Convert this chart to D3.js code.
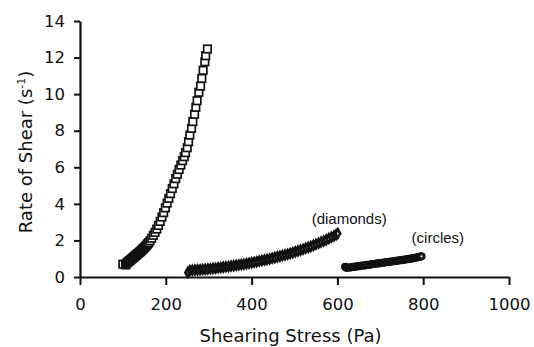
<!DOCTYPE html>
<html>
<head>
<meta charset="utf-8">
<script src="https://cdn.jsdelivr.net/npm/d3@7"></script>
<style>
  body { margin: 0; background: #fff; }
  svg { display: block; }
</style>
</head>
<body>
<figure id="chart" style="margin:0"></figure>
<script>
// squares series: shearing stress (Pa), rate of shear (1/s)
const squareStress = [100, 106, 108, 110, 112, 114, 116, 118, 120, 122, 124, 126, 128, 130, 132, 134, 136, 138, 140,
  142, 144, 146, 148, 150, 152, 154, 156, 158, 160, 163, 167, 171, 175, 179, 183, 187, 191, 195, 199, 203, 207, 211,
  215, 219, 223, 227, 231, 235, 239, 243, 246, 250, 253, 256, 260, 263, 267, 270, 273, 277, 281, 284, 287, 291, 293, 297];
const squareRate = [0.70, 0.66, 0.72, 0.78, 0.82, 0.86, 0.90, 0.94, 0.98, 1.02, 1.06, 1.10, 1.14, 1.18, 1.22, 1.26, 1.30, 1.34, 1.38,
  1.42, 1.47, 1.52, 1.56, 1.61, 1.66, 1.71, 1.76, 1.82, 1.88, 1.98, 2.12, 2.28, 2.44, 2.62, 2.82, 3.04, 3.28, 3.52, 3.78, 4.04, 4.30, 4.56,
  4.84, 5.10, 5.38, 5.62, 5.88, 6.12, 6.36, 6.58, 6.80, 7.07, 7.40, 7.76, 8.13, 8.50, 8.90, 9.28, 9.64, 10.10, 10.44, 10.86, 11.30, 11.77, 12.10, 12.47];

// diamonds series
const diamondStress = [251, 256, 262, 268, 274, 280, 286, 292, 298, 304, 310, 316, 322, 328, 334, 340, 346, 352, 358,
  364, 370, 376, 382, 388, 394, 400, 406, 412, 418, 424, 430, 436, 442, 448, 454, 460, 466, 472, 478, 484, 490, 496,
  502, 508, 514, 520, 526, 532, 538, 544, 550, 556, 562, 568, 574, 580, 586, 592, 597, 601];
const diamondRate = [0.25, 0.36, 0.37, 0.38, 0.39, 0.40, 0.41, 0.42, 0.44, 0.45, 0.47, 0.48, 0.50, 0.52, 0.54, 0.56, 0.58, 0.60, 0.62,
  0.64, 0.66, 0.68, 0.70, 0.73, 0.75, 0.78, 0.81, 0.84, 0.87, 0.90, 0.93, 0.96, 0.99, 1.02, 1.06, 1.10, 1.13, 1.17, 1.21, 1.25, 1.29, 1.33,
  1.38, 1.42, 1.47, 1.52, 1.57, 1.62, 1.67, 1.73, 1.79, 1.85, 1.91, 1.97, 2.03, 2.10, 2.17, 2.24, 2.31, 2.38];

// circles series
const circleStress = [618, 621, 625, 629, 633, 637, 641, 645, 649, 653, 657, 661, 665, 669, 673, 677, 681, 685, 689,
  693, 697, 701, 705, 709, 713, 717, 721, 725, 729, 733, 737, 741, 745, 749, 753, 757, 761, 765, 769, 773, 777,
  781, 785, 789, 793, 796];
const circleRate = [0.56, 0.50, 0.51, 0.52, 0.54, 0.55, 0.56, 0.58, 0.59, 0.60, 0.62, 0.63, 0.64, 0.66, 0.67, 0.68, 0.70, 0.71, 0.72,
  0.74, 0.75, 0.76, 0.78, 0.79, 0.80, 0.82, 0.83, 0.84, 0.86, 0.87, 0.88, 0.90, 0.91, 0.92, 0.94, 0.95, 0.97, 0.98, 1.00, 1.01, 1.03,
  1.05, 1.07, 1.09, 1.11, 1.13];

const xTicks = [0, 200, 400, 600, 800, 1000];
const yTicks = [0, 2, 4, 6, 8, 10, 12, 14];

const margin = { top: 21, left: 80 };
const width = 429;
const height = 256;
const ink = '#111';

const svg = d3.select('figure#chart')
  .append('svg')
  .attr('width', 534)
  .attr('height', 347);

const g = svg.append('g')
  .attr('transform', 'translate(' + margin.left + ',' + margin.top + ')');

const x = d3.scaleLinear().domain([0, 1000]).range([0, width]);
const y = d3.scaleLinear().domain([0, 14]).range([height, 0]);

// axes
const xAxis = g.append('g')
  .attr('transform', 'translate(0,' + height + ')')
  .call(d3.axisBottom(x).tickValues(xTicks).tickFormat(d3.format('d')).tickSize(8).tickPadding(13).tickSizeOuter(0));
const yAxis = g.append('g')
  .call(d3.axisLeft(y).tickValues(yTicks).tickFormat(d3.format('d')).tickSize(6).tickPadding(9).tickSizeOuter(0));

[xAxis, yAxis].forEach(a => {
  a.select('.domain').attr('stroke', ink).attr('stroke-width', 2.2);
  a.selectAll('.tick line').attr('stroke', ink).attr('stroke-width', 2);
  a.selectAll('text')
    .attr('fill', ink)
    .style('font-family', 'DejaVu Sans, Verdana, sans-serif')
    .style('font-size', '16.5px');
});

// squares
const sq = 7.5;
g.selectAll('rect.sq')
  .data(squareStress.map((s, i) => [s, squareRate[i]]))
  .enter()
  .append('rect')
  .attr('class', 'sq')
  .attr('x', d => x(d[0]) - sq / 2)
  .attr('y', d => y(d[1]) - sq / 2)
  .attr('width', sq)
  .attr('height', sq)
  .attr('fill', '#fff')
  .attr('stroke', ink)
  .attr('stroke-width', 1.7);

// diamonds
const diamond = d3.symbol().type(d3.symbolDiamond).size(20);
g.selectAll('path.dia')
  .data(diamondStress.map((s, i) => [s, diamondRate[i]]))
  .enter()
  .append('path')
  .attr('class', 'dia')
  .attr('d', diamond)
  .attr('transform', d => 'translate(' + x(d[0]) + ',' + y(d[1]) + ')')
  .attr('fill', '#fff')
  .attr('stroke', ink)
  .attr('stroke-width', 2.6);

// circles
g.selectAll('circle.cir')
  .data(circleStress.map((s, i) => [s, circleRate[i]]))
  .enter()
  .append('circle')
  .attr('class', 'cir')
  .attr('cx', d => x(d[0]))
  .attr('cy', d => y(d[1]))
  .attr('r', 2.6)
  .attr('fill', '#fff')
  .attr('stroke', ink)
  .attr('stroke-width', 3);

// series labels
g.append('text')
  .attr('x', x(540))
  .attr('y', y(2.9))
  .style('font-family', 'Liberation Sans, Arial, sans-serif')
  .style('font-size', '15px')
  .attr('fill', ink)
  .text('(diamonds)');
g.append('text')
  .attr('x', x(773))
  .attr('y', y(1.85))
  .style('font-family', 'Liberation Sans, Arial, sans-serif')
  .style('font-size', '15px')
  .attr('fill', ink)
  .text('(circles)');

// axis titles
svg.append('text')
  .attr('x', margin.left + x(500) - 4)
  .attr('y', 342)
  .attr('text-anchor', 'middle')
  .style('font-family', 'DejaVu Sans, Verdana, sans-serif')
  .style('font-size', '18px')
  .attr('fill', ink)
  .text('Shearing Stress (Pa)');

const yTitle = svg.append('text')
  .attr('transform', 'translate(32,152) rotate(-90)')
  .attr('text-anchor', 'middle')
  .style('font-family', 'DejaVu Sans, Verdana, sans-serif')
  .style('font-size', '18px')
  .attr('fill', ink);
yTitle.append('tspan').text('Rate of Shear (s');
yTitle.append('tspan').attr('dy', -7).style('font-size', '11px').text('-1');
yTitle.append('tspan').attr('dy', 7).text(')');
</script>
</body>
</html>
